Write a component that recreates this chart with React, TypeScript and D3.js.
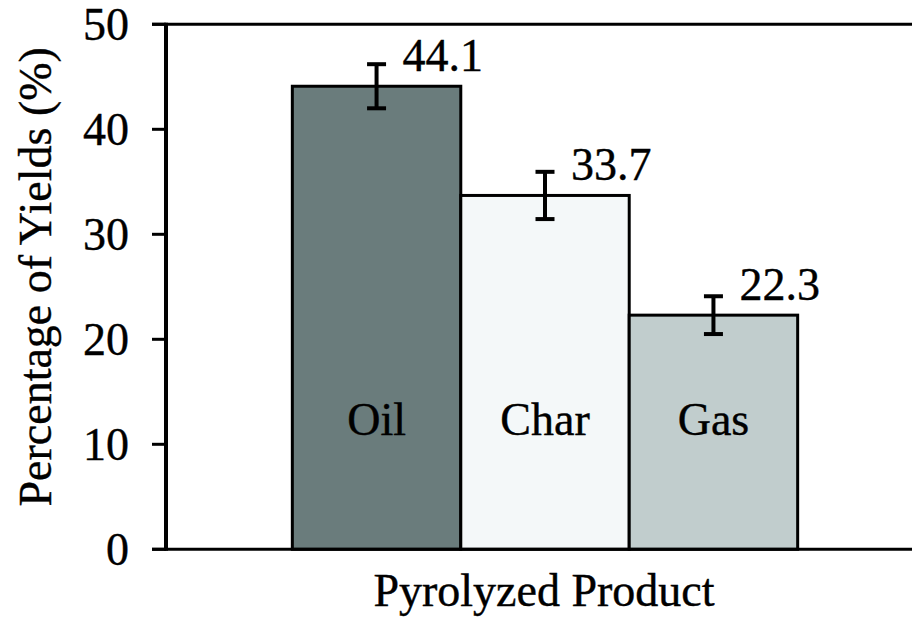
import React from "react";
import * as d3 from "d3";

const categories = ["Oil", "Char", "Gas"];
const values = [44.1, 33.7, 22.3];
const errors = [2.1, 2.25, 1.8];
const valueLabels = ["44.1", "33.7", "22.3"];
const yTicks = [0, 10, 20, 30, 40, 50];
const groupLabel = "Pyrolyzed Product";
const yTitle = "Percentage of Yields (%)";
const colors = ["#6a7c7c", "#f4f8f9", "#c1cdcd"];

const W = 912;
const H = 621;
const FONT = "'Liberation Serif', 'Times New Roman', serif";

export default function App() {
  const y = d3.scaleLinear().domain([0, 50]).range([549.3, 24.3]);
  const x0 = d3.scaleBand().domain([groupLabel]).range([166, 924]).paddingOuter(0.25).paddingInner(0);
  const x1 = d3.scaleBand().domain(categories).range([0, x0.bandwidth()]).padding(0);
  const gx = x0(groupLabel) as number;
  const cap = 9.5;
  const txt = { fill: "#000", stroke: "#000", strokeWidth: 0.4 };

  return (
    <svg width={W} height={H} style={{ position: "absolute", left: 0, top: 0, background: "#fff" }} fontFamily={FONT}>
      <rect x={0} y={0} width={W} height={H} fill="#fff" />
      {categories.map((c, i) => {
        const bx = gx + (x1(c) as number);
        return (
          <rect key={c} x={bx} y={y(values[i])} width={x1.bandwidth()} height={y(0) - y(values[i])}
            fill={colors[i]} stroke="#000" strokeWidth={3} />
        );
      })}
      {categories.map((c) => (
        <text key={"l" + c} x={gx + (x1(c) as number) + x1.bandwidth() / 2} y={y(0) - 114}
          textAnchor="middle" fontSize={46} {...txt}>{c}</text>
      ))}
      {categories.map((c, i) => {
        const cx = gx + (x1(c) as number) + x1.bandwidth() / 2;
        const t = y(values[i] + errors[i]);
        const b = y(values[i] - errors[i]);
        return (
          <g key={"e" + c} stroke="#000" strokeWidth={4}>
            <line x1={cx} x2={cx} y1={t} y2={b} />
            <line x1={cx - cap} x2={cx + cap} y1={t} y2={t} />
            <line x1={cx - cap} x2={cx + cap} y1={b} y2={b} />
          </g>
        );
      })}
      {categories.map((c, i) => {
        const cx = gx + (x1(c) as number) + x1.bandwidth() / 2;
        return (
          <text key={"v" + c} x={cx + 26} y={y(values[i]) - 15} fontSize={46} {...txt}>{valueLabels[i]}</text>
        );
      })}
      <line x1={166} x2={166} y1={y(50) - 1.5} y2={y(0) + 1.5} stroke="#000" strokeWidth={4} />
      <line x1={152} x2={W} y1={y(50)} y2={y(50)} stroke="#000" strokeWidth={3} />
      <line x1={152} x2={W} y1={y(0)} y2={y(0)} stroke="#000" strokeWidth={3} />
      {yTicks.map((t) => (
        <g key={"t" + t}>
          <line x1={152} x2={166} y1={y(t)} y2={y(t)} stroke="#000" strokeWidth={3} />
          <text x={129} y={y(t)} dy="0.34em" textAnchor="end" fontSize={46} {...txt}>{t}</text>
        </g>
      ))}
      <text transform={`translate(51,${(y(0) + y(50)) / 2 - 10}) rotate(-90)`} textAnchor="middle" fontSize={46} {...txt}>{yTitle}</text>
      <text x={544} y={606} textAnchor="middle" fontSize={46} {...txt}>{groupLabel}</text>
    </svg>
  );
}
